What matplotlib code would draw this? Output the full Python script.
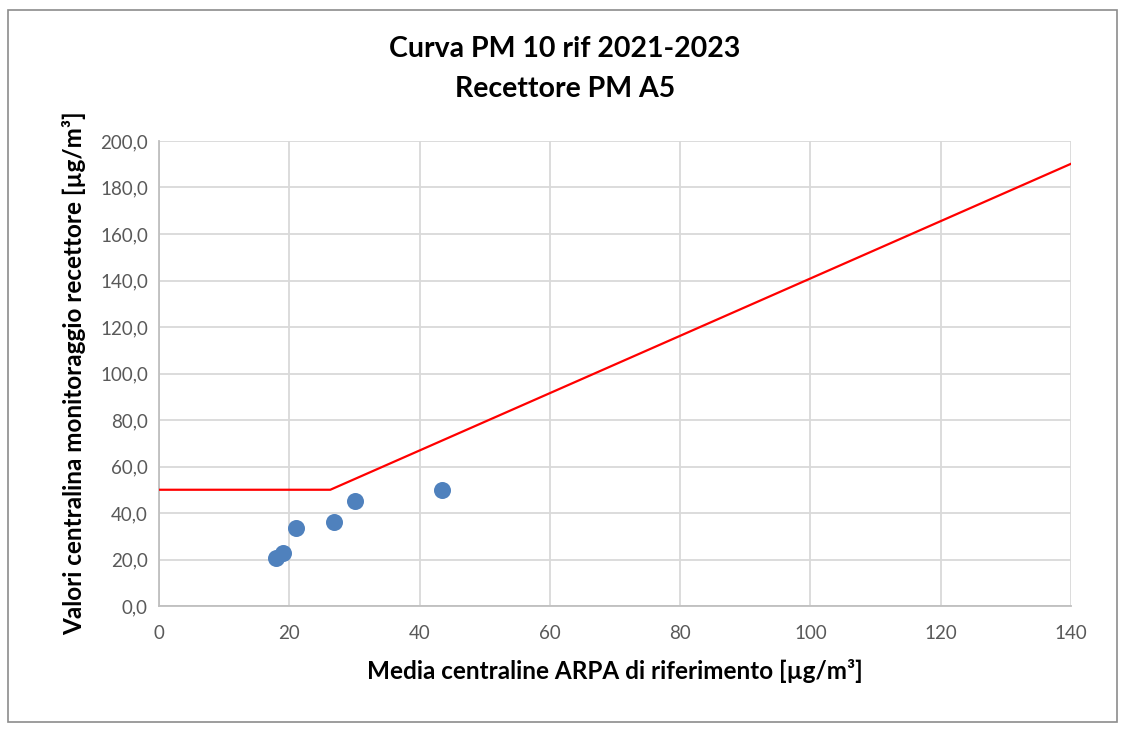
import matplotlib.pyplot as plt
from matplotlib.patches import Rectangle
from matplotlib.ticker import FuncFormatter

plt.rcParams['font.family'] = ['Lato', 'DejaVu Sans']

# ==== DATA ====
media_arpa = [17.9, 19.0, 21.1, 26.8, 30.1, 43.5]
valori_recettore = [20.6, 22.7, 33.7, 36.3, 45.0, 49.9]

curva_x = [0, 26.3, 140]
curva_y = [50, 50, 190.2]

x_ticks = [0, 20, 40, 60, 80, 100, 120, 140]
y_ticks = [0, 20, 40, 60, 80, 100, 120, 140, 160, 180, 200]

# ==== FIGURE ====
fig = plt.figure(figsize=(11.24, 7.31), dpi=100, facecolor='white')
ax = fig.add_axes([159 / 1124, 1 - 606 / 731, 912 / 1124, 465 / 731])

# chart border like excel
fig.patches.append(Rectangle((8 / 1124, 1 - 722 / 731), 1109 / 1124, 712 / 731,
                             transform=fig.transFigure, fill=False,
                             edgecolor='#8c8c8c', linewidth=1.2))

ax.plot(curva_x, curva_y, color='#ff0000', linewidth=1.6, zorder=3)
ax.scatter(media_arpa, valori_recettore, s=150, color='#4f81bd', zorder=4,
           linewidths=0)

ax.set_xlim(0, 140)
ax.set_ylim(0, 200)
ax.set_xticks(x_ticks)
ax.set_yticks(y_ticks)
ax.yaxis.set_major_formatter(FuncFormatter(lambda v, p: f'{v:.1f}'.replace('.', ',')))

ax.grid(color='#d9d9d9', linewidth=1.3)
ax.set_axisbelow(True)
for side in ['top', 'right']:
    ax.spines[side].set_visible(False)
ax.spines['left'].set_color('#bfbfbf')
ax.spines['bottom'].set_color('#bfbfbf')
ax.spines['left'].set_linewidth(1.3)
ax.spines['bottom'].set_linewidth(1.3)
ax.tick_params(length=0, labelsize=13.5, labelcolor='#595959')
ax.tick_params(axis='x', pad=14)
ax.tick_params(axis='y', pad=8)

ax.set_xlabel('Media centraline ARPA di riferimento [µg/m³]', fontsize=17.5,
              fontweight='bold', labelpad=12)
ax.set_ylabel('Valori centralina monitoraggio recettore [µg/m³]', fontsize=17.5,
              fontweight='bold', labelpad=10)

fig.text(565 / 1124, 1 - 49 / 731, 'Curva PM 10 rif 2021-2023', ha='center',
         va='center', fontsize=20.5, fontweight='bold')
fig.text(565 / 1124, 1 - 89 / 731, 'Recettore PM A5', ha='center',
         va='center', fontsize=20.5, fontweight='bold')

fig.savefig('out.png', dpi=100)
